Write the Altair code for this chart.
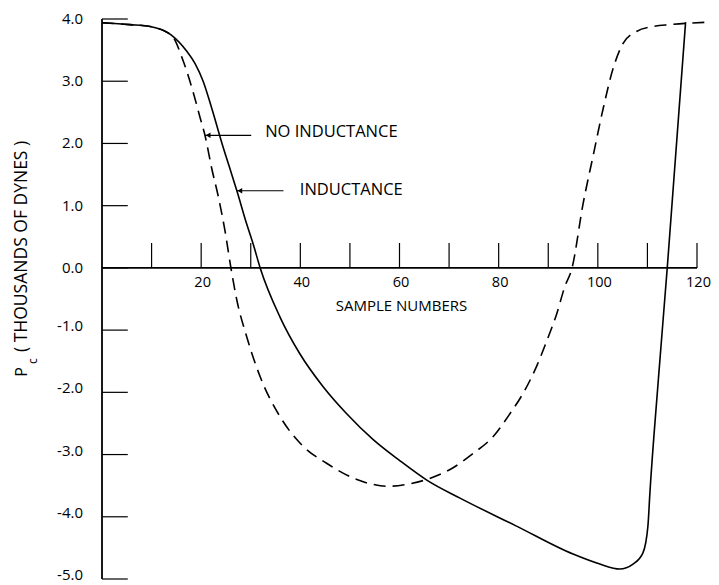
import altair as alt
import pandas as pd

# ---- data ----
# Solid curve: INDUCTANCE
x_inductance = [0, 5.6, 9.7, 14.0, 17.1, 18.8, 20.4, 22.3, 24.2, 25.7, 27.2, 29.2, 30.5, 31.9,
                35.9, 39.9, 44.6, 49.3, 54.7, 60.1, 65.5, 72.2, 83.6, 95.0, 100.4, 104.4,
                107.1, 109.1, 110.1, 110.5, 112.2, 114.0, 117.7]
y_inductance = [3.94, 3.91, 3.88, 3.74, 3.48, 3.28, 3.00, 2.52, 2.00, 1.62, 1.24, 0.70, 0.38, 0.0,
                -0.79, -1.38, -1.91, -2.34, -2.76, -3.10, -3.41, -3.70, -4.15, -4.60, -4.76, -4.84,
                -4.76, -4.58, -4.15, -3.62, -1.80, 0.0, 3.95]

# Dashed curve: NO INDUCTANCE
x_no_inductance = [0, 5.6, 9.7, 14.0, 16.4, 18.4, 19.8, 20.8, 22.1, 23.5, 24.8, 26.0, 27.2,
                   29.2, 31.9, 35.9, 40.6, 45.3, 50.7, 54.7, 57.7, 61.4, 65.5, 70.2, 74.9,
                   78.9, 82.3, 84.9, 87.6, 90.0, 91.7, 93.3, 94.8, 97.0, 99.1, 101.1, 103.1,
                   105.1, 107.8, 111.2, 114.5, 122.9]
y_no_inductance = [3.94, 3.91, 3.88, 3.74, 3.32, 2.82, 2.41, 2.12, 1.61, 1.13, 0.60, 0.0, -0.52,
                   -1.11, -1.75, -2.39, -2.87, -3.14, -3.38, -3.48, -3.51, -3.48, -3.40, -3.24, -2.98,
                   -2.71, -2.34, -2.02, -1.59, -1.11, -0.74, -0.31, 0.0, 1.02, 1.82, 2.57, 3.21,
                   3.61, 3.80, 3.88, 3.91, 3.95]

x_tick_values = [10, 20, 30, 40, 50, 60, 70, 80, 90, 100, 110, 120]
x_tick_labels = [20, 40, 60, 80, 100, 120]
y_tick_values = [-5, -4, -3, -2, -1, 0, 1, 2, 3, 4]
y_tick_labels = ["-5.0", "-4.0", "-3.0", "-2.0", "-1.0", "0.0", "1.0", "2.0", "3.0", "4.0"]

annot_text = ["NO INDUCTANCE", "INDUCTANCE"]
annot_text_x = [32.9, 39.9]
annot_text_y = [2.19, 1.25]
arrow_tail_x = [30.1, 36.6]
arrow_tip_x = [20.8, 27.2]
arrow_y = [2.13, 1.24]

x_title = "SAMPLE NUMBERS"
y_title_main = "P"
y_title_sub = "c"
y_title_rest = "( THOUSANDS OF DYNES )"

FONT = "Open Sans"
X_TICK_LEN = 0.4   # in y units (upward ticks)
Y_TICK_LEN = 5.2   # in x units (rightward ticks)
HEAD_SHIFT = 0.6

xscale = alt.Scale(domain=[0, 120], nice=False, zero=False)
yscale = alt.Scale(domain=[-5, 4], nice=False, zero=False)


def X(field):
    return alt.X(field, type="quantitative", scale=xscale, axis=None)


def Y(field):
    return alt.Y(field, type="quantitative", scale=yscale, axis=None)


df_ind = pd.DataFrame({"x": x_inductance, "y": y_inductance})
df_no = pd.DataFrame({"x": x_no_inductance, "y": y_no_inductance})

solid = alt.Chart(df_ind).mark_line(color="black", strokeWidth=1.6, interpolate="monotone").encode(
    x=X("x"), y=Y("y"))

dashed = alt.Chart(df_no).mark_line(color="black", strokeWidth=1.6, strokeDash=[12, 7],
                                    interpolate="monotone").encode(x=X("x"), y=Y("y"))

# x axis line through zero
df_xline = pd.DataFrame({"x": [0], "x1": [120], "y": [0]})
xline = alt.Chart(df_xline).mark_rule(color="black", strokeWidth=1.8).encode(
    x=X("x"), x2="x1:Q", y=Y("y"))

# y axis line
df_yline = pd.DataFrame({"x": [0], "y": [-5], "y1": [4]})
yline = alt.Chart(df_yline).mark_rule(color="black", strokeWidth=1.8).encode(
    x=X("x"), y=Y("y"), y2="y1:Q")

# x ticks pointing up
df_xt = pd.DataFrame({"x": x_tick_values})
df_xt["y"] = 0.0
df_xt["y1"] = X_TICK_LEN
xticks = alt.Chart(df_xt).mark_rule(color="black", strokeWidth=1.2).encode(
    x=X("x"), y=Y("y"), y2="y1:Q")

df_xl = pd.DataFrame({"x": x_tick_labels})
df_xl["y"] = 0.0
df_xl["lab"] = df_xl["x"].astype(str)
xlabels = alt.Chart(df_xl).mark_text(font=FONT, fontSize=14.5, color="black",
                                     baseline="middle", align="center", dy=15, dx=1.5).encode(
    x=X("x"), y=Y("y"), text="lab:N")

df_xtitle = pd.DataFrame({"t": [x_title], "x": [60.4], "y": [0.0]})
xtitle = alt.Chart(df_xtitle).mark_text(
    font=FONT, fontSize=15, color="black", baseline="middle", align="center", dy=38).encode(
    x=X("x"), y=Y("y"), text="t:N")

# y ticks pointing right (inside) and labels
df_yt = pd.DataFrame({"y": y_tick_values, "lab": y_tick_labels})
df_yt["x"] = 0.0
df_yt["x1"] = Y_TICK_LEN
yticks = alt.Chart(df_yt).mark_rule(color="black", strokeWidth=1.2).encode(
    y=Y("y"), x=X("x"), x2="x1:Q")
ylabels_pos = alt.Chart(df_yt[df_yt["y"] >= 0]).mark_text(
    font=FONT, fontSize=15, color="black", align="right", baseline="middle", dx=-19).encode(
    y=Y("y"), x=X("x"), text="lab:N")
ylabels_neg = alt.Chart(df_yt[df_yt["y"] < 0]).mark_text(
    font=FONT, fontSize=15, color="black", align="right", baseline="middle", dx=-19, dy=-4).encode(
    y=Y("y"), x=X("x"), text="lab:N")

# annotations
df_ann = pd.DataFrame({"t": annot_text, "tx": annot_text_x, "ty": annot_text_y,
                       "ax0": arrow_tail_x, "ax1": arrow_tip_x, "ay": arrow_y})
df_ann["hx"] = df_ann["ax1"] + HEAD_SHIFT
ann_text = alt.Chart(df_ann).mark_text(font=FONT, fontSize=16.5, color="black",
                                       align="left", baseline="middle").encode(
    x=X("tx"), y=Y("ty"), text="t:N")
ann_line = alt.Chart(df_ann).mark_rule(color="black", strokeWidth=1.2).encode(
    x=X("ax0"), x2="ax1:Q", y=Y("ay"))
ann_head = alt.Chart(df_ann).mark_point(shape="triangle-left", filled=True, color="black",
                                        size=30, opacity=1).encode(
    x=X("hx"), y=Y("ay"))

# rotated y-axis title with subscript
ytitle_rest = alt.Chart(pd.DataFrame({"t": [y_title_rest]})).mark_text(
    font=FONT, fontSize=17.5, color="black", angle=270, align="left", baseline="alphabetic").encode(
    x=alt.value(-75), y=alt.value(333), text="t:N")
ytitle_p = alt.Chart(pd.DataFrame({"t": [y_title_main]})).mark_text(
    font=FONT, fontSize=16, color="black", angle=270, align="center", baseline="alphabetic").encode(
    x=alt.value(-75), y=alt.value(353), text="t:N")
ytitle_c = alt.Chart(pd.DataFrame({"t": [y_title_sub]})).mark_text(
    font=FONT, fontSize=12, color="black", angle=270, align="center", baseline="alphabetic").encode(
    x=alt.value(-65), y=alt.value(342), text="t:N")

chart = alt.layer(
    solid, dashed, xline, yline, xticks, xlabels, xtitle, yticks, ylabels_pos, ylabels_neg,
    ann_line, ann_head, ann_text, ytitle_rest, ytitle_p, ytitle_c,
).properties(
    width=595, height=560,
    autosize=alt.AutoSizeParams(type="none"),
    padding={"left": 94, "top": 11, "right": 14, "bottom": 4},
    background="white",
).configure_view(stroke=None)

chart.save("out.html", embed_options={"renderer": "svg", "actions": False})
